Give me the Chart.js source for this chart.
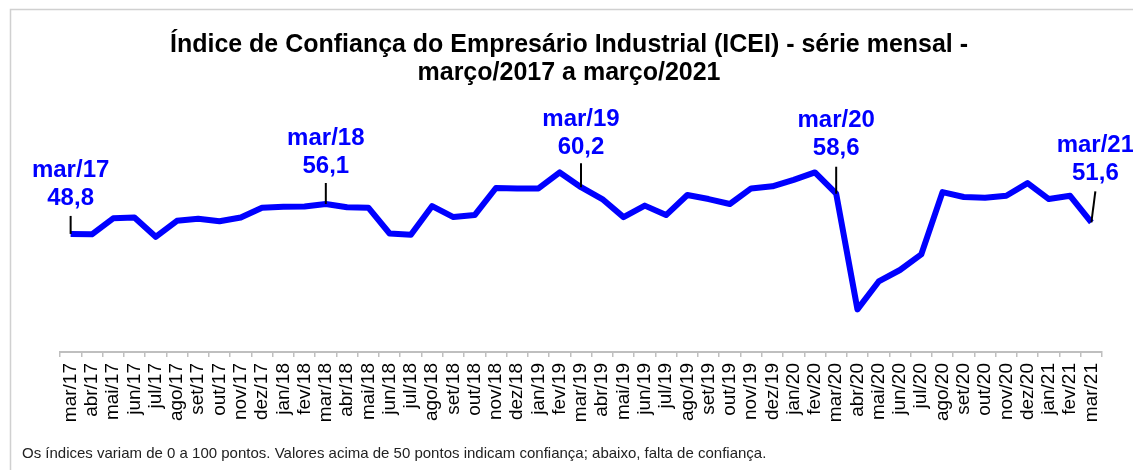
<!DOCTYPE html>
<html>
<head>
<meta charset="utf-8">
<script src="https://cdn.jsdelivr.net/npm/chart.js@4.4.1/dist/chart.umd.min.js"></script>
<style>
  body { margin: 0; background: #fff; }
  #wrap { width: 1133px; height: 470px; position: relative; }
</style>
</head>
<body>
<div id="wrap"><canvas id="chart"></canvas></div>
<script>
// meses de mar/17 a mar/21
const months = ['mar/17', 'abr/17', 'mai/17', 'jun/17', 'jul/17', 'ago/17', 'set/17', 'out/17', 'nov/17', 'dez/17',
    'jan/18', 'fev/18', 'mar/18', 'abr/18', 'mai/18', 'jun/18', 'jul/18', 'ago/18', 'set/18', 'out/18', 'nov/18', 'dez/18',
    'jan/19', 'fev/19', 'mar/19', 'abr/19', 'mai/19', 'jun/19', 'jul/19', 'ago/19', 'set/19', 'out/19', 'nov/19', 'dez/19',
    'jan/20', 'fev/20', 'mar/20', 'abr/20', 'mai/20', 'jun/20', 'jul/20', 'ago/20', 'set/20', 'out/20', 'nov/20', 'dez/20',
    'jan/21', 'fev/21', 'mar/21'];

// valores do ICEI
const icei = [48.8, 48.7, 52.6, 52.8, 48.1, 52.0, 52.5, 51.9, 52.8, 55.2,
    55.4, 55.5, 56.1, 55.3, 55.2, 48.9, 48.6, 55.6, 52.9, 53.4, 60.0, 59.9,
    59.9, 63.8, 60.2, 57.3, 52.9, 55.7, 53.4, 58.3, 57.3, 56.1, 59.9, 60.4,
    62.0, 63.8, 58.6, 30.4, 37.2, 40.0, 43.8, 59.0, 57.8, 57.6, 58.1, 61.2,
    57.3, 58.1, 51.6];

// pontos destacados (março de cada ano)
const highlighted = [0, 12, 24, 36, 48];

const titleLines = ['Índice de Confiança do Empresário Industrial (ICEI) - série mensal -', 'março/2017 a março/2021'];
const footnote = 'Os índices variam de 0 a 100 pontos. Valores acima de 50 pontos indicam confiança; abaixo, falta de confiança.';

// deslocamentos dos rótulos (texto e traço) acima de cada ponto destacado
const labelOffsets = [
    { dy: -36, lead: 18, dx: 0 },
    { dy: -38, lead: 21, dx: 0 },
    { dy: -40, lead: 24, dx: 0 },
    { dy: -45, lead: 27, dx: 0 },
    { dy: -49, lead: 31, dx: 4 },
];

const FONT = '"Liberation Sans", Arial, sans-serif';

const frameAndText = {
    id: 'frameAndText',
    beforeDraw(chart) {
        const ctx = chart.ctx;
        ctx.save();
        ctx.fillStyle = '#fff';
        ctx.fillRect(0, 0, chart.width, chart.height);
        ctx.strokeStyle = '#d0d0d0';
        ctx.lineWidth = 1.5;
        ctx.beginPath();
        ctx.moveTo(10.5, chart.height);
        ctx.lineTo(10.5, 9.5);
        ctx.lineTo(chart.width, 9.5);
        ctx.stroke();
        ctx.restore();
    },
    afterDraw(chart) {
        const ctx = chart.ctx;
        ctx.save();
        ctx.fillStyle = '#000';
        ctx.textAlign = 'center';
        ctx.textBaseline = 'middle';
        ctx.font = 'bold 25px ' + FONT;
        ctx.fillText(titleLines[0], 569, 45, 798);
        ctx.fillText(titleLines[1], 569, 73, 305);
        ctx.textAlign = 'left';
        ctx.font = '15px ' + FONT;
        ctx.fillStyle = '#222';
        ctx.fillText(footnote, 22, 454, 753);
        ctx.restore();
    },
    afterDatasetsDraw(chart) {
        const ctx = chart.ctx;
        const meta = chart.getDatasetMeta(0);
        ctx.save();
        highlighted.forEach((idx, k) => {
            const pt = meta.data[idx];
            const off = labelOffsets[k];
            ctx.strokeStyle = '#000';
            ctx.lineWidth = 2;
            ctx.beginPath();
            ctx.moveTo(pt.x, pt.y);
            ctx.lineTo(pt.x + off.dx, pt.y - off.lead);
            ctx.stroke();

            ctx.fillStyle = '#0000ff';
            ctx.font = 'bold 24px ' + FONT;
            ctx.textAlign = 'center';
            ctx.textBaseline = 'middle';
            const tx = pt.x + off.dx;
            ctx.fillText(months[idx], tx, pt.y + off.dy - 28);
            ctx.fillText(icei[idx].toFixed(1).replace('.', ','), tx, pt.y + off.dy);
        });
        ctx.restore();
    }
};

const ctx = document.getElementById('chart').getContext('2d');
new Chart(ctx, {
    type: 'line',
    data: {
        labels: months,
        datasets: [{
            label: 'ICEI',
            data: icei,
            borderColor: '#0000ff',
            borderWidth: 6,
            borderJoinStyle: 'round',
            pointRadius: 0,
            tension: 0,
            fill: false,
            clip: false,
        }],
    },
    options: {
        responsive: true,
        maintainAspectRatio: false,
        animation: false,
        layout: { padding: { left: 60, right: 31, top: 147, bottom: 0 } },
        plugins: {
            legend: { display: false },
            title: { display: false },
            tooltip: { enabled: false },
        },
        scales: {
            x: {
                type: 'category',
                offset: true,
                afterFit: (scale) => { scale.height = 118; },
                border: { color: '#bfbfbf', width: 2 },
                grid: {
                    display: true,
                    drawOnChartArea: false,
                    drawTicks: true,
                    tickLength: 5,
                    color: '#bfbfbf',
                    lineWidth: 1.5,
                    offset: true,
                },
                ticks: {
                    autoSkip: false,
                    minRotation: 90,
                    maxRotation: 90,
                    padding: 6,
                    color: '#000',
                    font: { family: FONT, size: 19 },
                },
            },
            y: {
                display: false,
                min: 20,
                max: 70,
            },
        },
    },
    plugins: [frameAndText],
});
</script>
</body>
</html>
